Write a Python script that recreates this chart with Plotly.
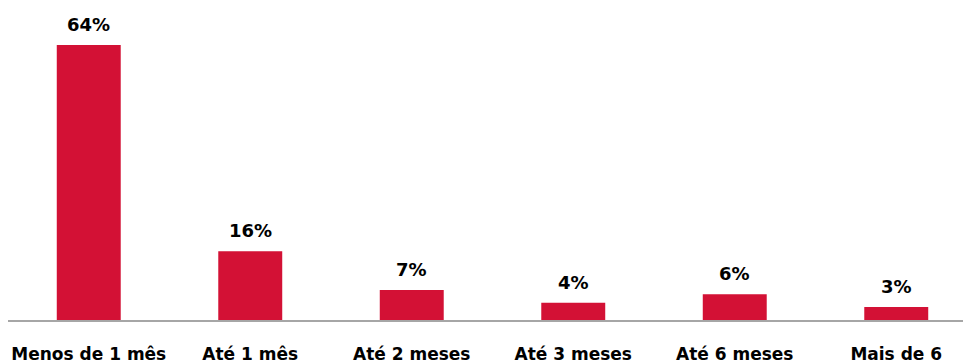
import plotly.graph_objects as go

categories = ["Menos de 1 mês", "Até 1 mês", "Até 2 meses", "Até 3 meses", "Até 6 meses", "Mais de 6"]
values = [64, 16, 7, 4, 6, 3]
labels = ["64%", "16%", "7%", "4%", "6%", "3%"]

BAR_COLOR = "#D31135"
FONT = "DejaVu Sans"

fig = go.Figure()
fig.add_trace(go.Bar(
    x=list(range(len(categories))),
    y=values,
    marker=dict(color=BAR_COLOR, line=dict(width=0)),
    width=0.396,
    hoverinfo="skip",
))

for i, (v, t) in enumerate(zip(values, labels)):
    fig.add_annotation(
        x=i, y=v, text=f"<b>{t}</b>", showarrow=False,
        xanchor="center", yanchor="bottom", yshift=8,
        font=dict(family=FONT, size=18, color="#000000"),
    )

fig.update_layout(
    width=963, height=363,
    margin=dict(l=8, r=0, t=0, b=43, autoexpand=False),
    paper_bgcolor="white", plot_bgcolor="white",
    showlegend=False,
    bargap=0.6,
)
fig.update_xaxes(
    range=[-0.5, -0.5 + 955 / 161.5],
    tickmode="array",
    tickvals=list(range(len(categories))),
    ticktext=[f"<b>{c}</b>" for c in categories],
    tickfont=dict(family=FONT, size=17, color="#000000"),
    showline=True, linecolor="#A6A6A6", linewidth=1.5,
    ticks="", showgrid=False, zeroline=False,
    ticklabelstandoff=18, automargin=False,
)
fig.update_yaxes(
    range=[0, 74.47],
    visible=False, showgrid=False, zeroline=False,
    automargin=False,
)

fig.write_html("out.html")
